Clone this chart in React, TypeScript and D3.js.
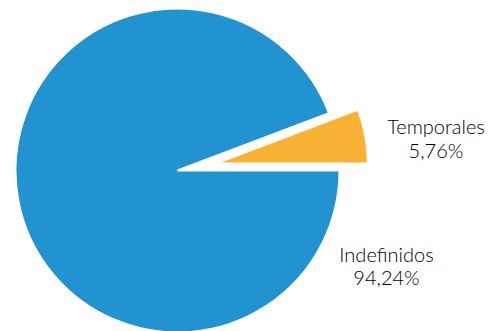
import React from "react";
import * as d3 from "d3";

const categories = ["Indefinidos", "Temporales"];
const values = [94.24, 5.76];
const valueLabels = ["94,24%", "5,76%"];
const colors = ["#2293D1", "#F9B233"];

const W = 489;
const H = 331;
const cx = 177.5;
const cy = 170.5;
const radii = [162, 152];
const explode = [0, 39];
// label anchor (baseline of first line) relative to page
const labelPos: [number, number][] = [
  [386.5, 261.5],
  [436, 134],
];

export default function App() {
  const pie = d3
    .pie<number>()
    .sort(null)
    .startAngle(Math.PI / 2)
    .endAngle(Math.PI / 2 + 2 * Math.PI)
    .value((d) => d);
  const arcs = pie(values);

  return (
    <svg
      width={W}
      height={H}
      style={{ position: "fixed", left: 0, top: 0, background: "#fff" }}
    >
      {arcs.map((a, i) => {
        const mid = (a.startAngle + a.endAngle) / 2;
        const dx = explode[i] * Math.sin(mid);
        const dy = -explode[i] * Math.cos(mid);
        const path = d3.arc<any>().innerRadius(0).outerRadius(radii[i])(a) || "";
        return (
          <path
            key={categories[i]}
            d={path}
            transform={`translate(${cx + dx},${cy + dy})`}
            fill={colors[i]}
            stroke="#fff"
            strokeWidth={2}
            strokeLinejoin="miter"
          />
        );
      })}
      {categories.map((c, i) => (
        <text
          key={c}
          x={labelPos[i][0]}
          y={labelPos[i][1]}
          textAnchor="middle"
          fontFamily="Lato, 'Noto Sans', sans-serif"
          fontSize={20}
          fontWeight={300}
          fill="#000"
        >
          <tspan x={labelPos[i][0]} dy={0}>
            {c}
          </tspan>
          <tspan x={labelPos[i][0]} dy={23.5}>
            {valueLabels[i]}
          </tspan>
        </text>
      ))}
    </svg>
  );
}
